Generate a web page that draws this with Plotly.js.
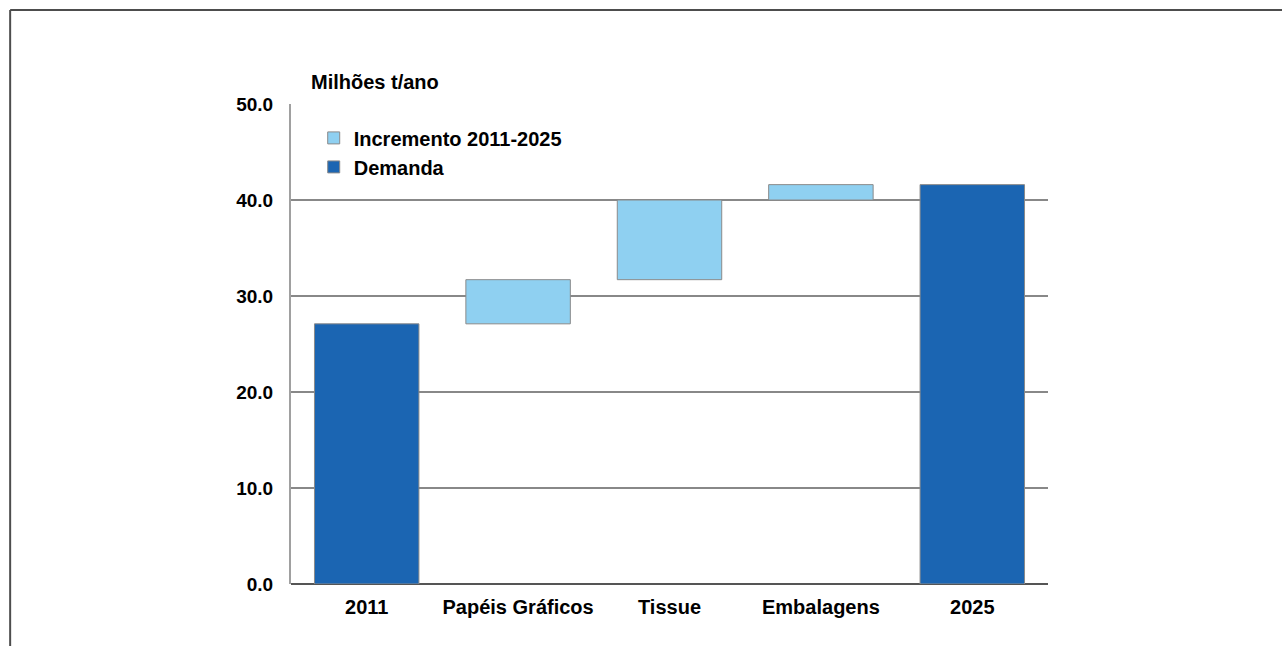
<!DOCTYPE html>
<html>
<head>
<meta charset="utf-8">
<script src="https://cdn.plot.ly/plotly-3.0.1.min.js"></script>
<style>html,body{margin:0;padding:0;background:#fff;}#chart{width:1282px;height:646px;}</style>
</head>
<body>
<div id="chart"></div>
<script>
// Data
const categories = ["2011", "Papéis Gráficos", "Tissue", "Embalagens", "2025"];
const demandaCategories = ["2011", "2025"];
const demandaValues = [27.1, 41.6];
const incrementoCategories = ["Papéis Gráficos", "Tissue", "Embalagens"];
const incrementoValues = [4.6, 8.3, 1.6];
const yTickValues = [0, 10, 20, 30, 40, 50];

// Build bases of the increments (running total from 2011 demand)
const incrementoBase = [];
let running = demandaValues[0];
for (const v of incrementoValues) { incrementoBase.push(running); running += v; }

const fontFam = '"Liberation Sans", Arial, sans-serif';
const darkBlue = '#1b65b2';
const lightBlue = '#8fd0f1';
const outline = {color: '#8a8a8a', width: 1};

const traces = [
  {
    type: 'bar', name: 'Incremento 2011-2025',
    x: incrementoCategories, y: incrementoValues, base: incrementoBase,
    marker: {color: lightBlue, line: outline},
    hoverinfo: 'x+y'
  },
  {
    type: 'bar', name: 'Demanda',
    x: demandaCategories, y: demandaValues,
    marker: {color: darkBlue, line: outline},
    hoverinfo: 'x+y'
  }
];

const layout = {
  width: 1282, height: 646,
  margin: {l: 291, r: 234, t: 104, b: 62},
  paper_bgcolor: '#ffffff', plot_bgcolor: '#ffffff',
  font: {family: fontFam, color: '#000', size: 18},
  barmode: 'overlay', bargap: 0.31,
  showlegend: true,
  legend: {
    x: 0.03, y: 0.970, xanchor: 'left', yanchor: 'top',
    bgcolor: 'rgba(0,0,0,0)', borderwidth: 0,
    font: {family: fontFam, size: 20, color: '#000', weight: 'bold'},
    traceorder: 'normal', itemclick: false
  },
  xaxis: {
    type: 'category', categoryorder: 'array', categoryarray: categories,
    range: [-0.5, 4.5],
    showgrid: false, showline: false, zeroline: false, ticks: '',
    tickfont: {family: fontFam, size: 20, color: '#000', weight: 'bold'},
    ticklabelstandoff: 9, fixedrange: true
  },
  yaxis: {
    range: [0, 50], tickvals: yTickValues, tickformat: '.1f',
    showgrid: true, gridcolor: '#888888', gridwidth: 2,
    showline: true, linecolor: '#a0a0a0', linewidth: 2,
    zeroline: true, zerolinecolor: '#555555', zerolinewidth: 2,
    ticks: '', ticklabelstandoff: 12,
    tickfont: {family: fontFam, size: 19, color: '#000', weight: 'bold'},
    fixedrange: true
  },
  annotations: [{
    text: 'Milhões t/ano', xref: 'paper', yref: 'paper',
    x: 0.024, y: 1.046, xanchor: 'left', yanchor: 'middle', showarrow: false,
    font: {family: fontFam, size: 20, color: '#000', weight: 'bold'}
  }],
  shapes: [
    {type: 'line', xref: 'paper', yref: 'paper', x0: -0.371, x1: 1.32, y0: 1.196, y1: 1.196, line: {color: '#4d4d4d', width: 2}},
    {type: 'line', xref: 'paper', yref: 'paper', x0: -0.371, x1: -0.371, y0: 1.196, y1: -0.14, line: {color: '#4d4d4d', width: 2}}
  ]
};

Plotly.newPlot('chart', traces, layout, {displayModeBar: false, staticPlot: true});
</script>
</body>
</html>
